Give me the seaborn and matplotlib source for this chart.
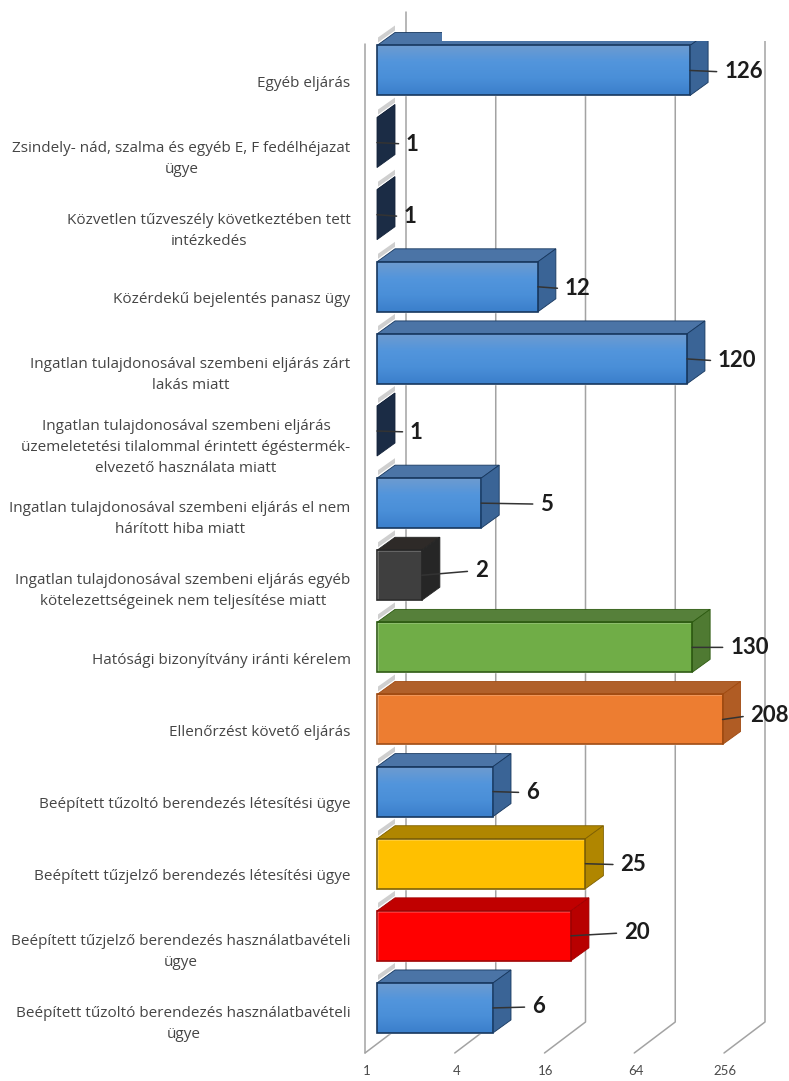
import numpy as np
import pandas as pd
import matplotlib
matplotlib.use("Agg")
import matplotlib.pyplot as plt
from matplotlib.patches import Polygon, Rectangle
from matplotlib.transforms import Affine2D
from matplotlib.colors import LinearSegmentedColormap
import seaborn as sns

categories = [
    "Egyéb eljárás",
    "Zsindely- nád, szalma és egyéb E, F fedélhéjazat\nügye",
    "Közvetlen tűzveszély következtében tett\nintézkedés",
    "Közérdekű bejelentés panasz ügy",
    "Ingatlan tulajdonosával szembeni eljárás zárt\nlakás miatt",
    "Ingatlan tulajdonosával szembeni eljárás\nüzemeletetési tilalommal érintett égéstermék-\nelvezető használata miatt",
    "Ingatlan tulajdonosával szembeni eljárás el nem\nhárított hiba miatt",
    "Ingatlan tulajdonosával szembeni eljárás egyéb\nkötelezettségeinek nem teljesítése miatt",
    "Hatósági bizonyítvány iránti kérelem",
    "Ellenőrzést követő eljárás",
    "Beépített tűzoltó berendezés létesítési ügye",
    "Beépített tűzjelző berendezés létesítési ügye",
    "Beépített tűzjelző berendezés használatbavételi\nügye",
    "Beépített tűzoltó berendezés használatbavételi\nügye",
]
values = [126, 1, 1, 12, 120, 1, 5, 2, 130, 208, 6, 25, 20, 6]
tick_values = [1, 4, 16, 64, 256]

# colour group of each bar
groups = ["blue", "navy", "navy", "blue", "blue", "navy", "blue", "black",
          "green", "orange", "blue", "gold", "red", "blue"]

# front, side, top, edge
shades = {
    "blue": ("#4f8fd6", "#3a6496", "#4b74a6", "#17375e"),
    "navy": ("#1f3864", "#1b2c45", "#1b2c45", "#14233a"),
    "black": ("#3f3f3f", "#262626", "#2e2a28", "#262626"),
    "green": ("#70ad47", "#4f7a32", "#56803a", "#2c5a10"),
    "orange": ("#ed7d31", "#b05c24", "#b0602a", "#a04a10"),
    "gold": ("#ffc000", "#b08600", "#b08600", "#7f6000"),
    "red": ("#ff0000", "#b80000", "#c00000", "#a00000"),
}

# where the value labels sit, in pixels from the bar end and the bar centre
label_gap = [34, 29, 27, 27, 31, 33, 59, 53, 38, 28, 33, 35, 53, 39]
label_drop = [1.5, 1.5, 2, 2, 2, 1, 1, -4.5, 0, -4, 1, 1, -3, -1]

W, H = 789, 1081
LEFT, RIGHT, TOP, BOTTOM = 377, 736, 34.4, 1044
DEPTH_X, DEPTH_Y = 18, 13
WALL_X, WALL_Y = 29, 22
FLOOR_X, FLOOR_Y = 12, 9
GRID = "#a3a3a3"


def PixelY(y):
    return H - y


def DrawWalls(ax):
    # ax is in data coords, the walls are easier in pixels
    to_px = Affine2D().scale(1, -1).translate(0, H)
    for v in tick_values:
        x = ax.transData.transform((v, 0))[0]
        back = x + WALL_X
        ax.plot([x - FLOOR_X, back, back], [BOTTOM + FLOOR_Y, BOTTOM - WALL_Y, 12],
                color=GRID, lw=1.1, transform=to_px, clip_on=False, zorder=0)
    wall = LEFT - FLOOR_X
    ax.plot([wall, wall], [BOTTOM + FLOOR_Y, 44], color=GRID, lw=1.1,
            transform=to_px, clip_on=False, zorder=0)


def DrawBars():
    df = pd.DataFrame({"category": categories, "value": values, "group": groups})
    palette = {g: shades[g][0] for g in shades}

    fig = plt.figure(figsize=(W / 100, H / 100), dpi=100, facecolor="white")
    ax = fig.add_axes([LEFT / W, 1 - BOTTOM / H, (RIGHT - LEFT) / W, (BOTTOM - TOP) / H])
    ax.patch.set_alpha(0)

    sns.barplot(data=df, y="category", x="value", hue="group", palette=palette,
                dodge=False, legend=False, width=0.693, log_scale=2, saturation=1, ax=ax)
    # bars start at 0 which a log axis can't draw, start them at 1
    for bar in ax.patches:
        right = bar.get_x() + bar.get_width()
        bar.set_x(1)
        bar.set_width(right - 1)

    ax.set_xlim(1, 256)
    ax.set_ylim(13.5, -0.5)
    ax.set_xlabel("")
    ax.set_ylabel("")
    ax.set_xticks(tick_values)
    ax.set_xticklabels([str(t) for t in tick_values])
    ax.minorticks_off()
    sns.despine(ax=ax, left=True, bottom=True)
    ax.tick_params(axis="x", length=0, pad=15, labelsize=9.5, labelcolor="#4a4a4a")
    ax.tick_params(axis="y", length=0, pad=19, labelsize=11, labelcolor="#454545")

    for label in ax.get_xticklabels():
        label.set_transform(label.get_transform() + Affine2D().translate(-10.5, 0))
    for label in ax.get_yticklabels():
        label.set_fontfamily("Open Sans")
        label.set_multialignment("center")
        label.set_linespacing(1.55)
        label.set_transform(label.get_transform() + Affine2D().translate(0, -11))

    DrawWalls(ax)
    return fig, ax


def DrawFaces(fig, ax):
    over = fig.add_axes([0, 0, 1, 1], zorder=5)
    over.patch.set_alpha(0)
    over.axis("off")

    blue_grad = LinearSegmentedColormap.from_list(
        "blue_front", ["#6d9bd0", "#5295dc", "#4a8fd8", "#3b7fcb"])
    ramp = np.linspace(0, 1, 64).reshape(-1, 1)

    for bar in ax.patches:
        if bar.get_height() == 0:
            continue
        mid = bar.get_y() + bar.get_height() / 2
        idx = int(round(mid))
        group = groups[idx]
        front, side, top, edge = shades[group]

        x1, yc = ax.transData.transform((bar.get_x() + bar.get_width(), mid))
        x0 = ax.transData.transform((1, mid))[0]
        yt = PixelY(ax.transData.transform((1, bar.get_y()))[1])
        yb = PixelY(ax.transData.transform((1, bar.get_y() + bar.get_height()))[1])
        yc = PixelY(yc)

        # grey sliver of the bar's shadow on the left wall
        over.add_patch(Polygon([(x0 + 1, yt - 3), (x0 + DEPTH_X, yt - 15),
                                (x0 + DEPTH_X, yt - 20), (x0 + 1, yt - 8)],
                               fc="#cfcfcf", ec="none", zorder=1))
        over.add_patch(Polygon([(x0, yt), (x0 + DEPTH_X, yt - DEPTH_Y),
                                (x1 + DEPTH_X, yt - DEPTH_Y), (x1, yt)],
                               fc=top, ec=edge, lw=0.6, zorder=2))
        over.add_patch(Polygon([(x1, yt), (x1 + DEPTH_X, yt - DEPTH_Y),
                                (x1 + DEPTH_X, yb - DEPTH_Y), (x1, yb)],
                               fc=side, ec=edge, lw=0.6, zorder=2))
        if group == "blue":
            over.imshow(ramp, extent=(x0, x1, yb, yt), cmap=blue_grad, aspect="auto",
                        origin="upper", zorder=3)
        if x1 > x0:
            over.add_patch(Rectangle((x0, yt), x1 - x0, yb - yt, fill=False,
                                     ec=edge, lw=1.2, zorder=4))

        over.annotate(str(values[idx]), xy=(x1, yc),
                      xytext=(label_gap[idx], -label_drop[idx]), textcoords="offset pixels",
                      va="center", ha="left", fontsize=16, fontweight="bold",
                      color="#1c1c1c", zorder=7,
                      arrowprops=dict(arrowstyle="-", color="#333333", lw=1.1,
                                      relpos=(0, 0.5), shrinkA=3, shrinkB=0))

    # the picture is cut off above the first bar
    over.add_patch(Rectangle((442, 0), W - 442, 41, fc="white", ec="none", zorder=6))
    over.set_xlim(0, W)
    over.set_ylim(H, 0)


def main():
    sns.set_theme(style="white")
    plt.rcParams["font.family"] = ["Lato", "DejaVu Sans"]
    fig, ax = DrawBars()
    DrawFaces(fig, ax)
    fig.savefig("out.png", dpi=100, facecolor="white")


if __name__ == "__main__":
    main()
